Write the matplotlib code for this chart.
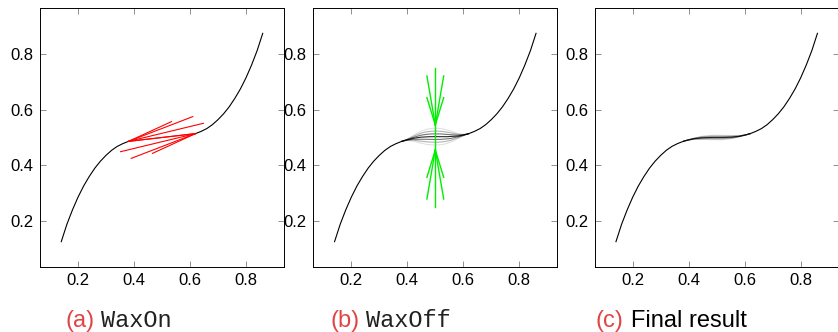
import matplotlib
matplotlib.use("Agg")
import matplotlib.pyplot as plt
from matplotlib.path import Path
from matplotlib.patches import PathPatch

plt.rcParams['font.family'] = ['Liberation Sans', 'DejaVu Sans']

# black curve (left part and right part of the hole)
left_x = [0.14, 0.16, 0.18, 0.20, 0.22, 0.24, 0.26, 0.28, 0.30, 0.32, 0.34, 0.36, 0.38]
left_y = [0.126, 0.188, 0.240, 0.286, 0.326, 0.360, 0.390, 0.415, 0.436, 0.454, 0.468, 0.478, 0.486]
right_x = [0.62, 0.64, 0.66, 0.68, 0.70, 0.72, 0.74, 0.76, 0.78, 0.80, 0.82, 0.84, 0.86]
right_y = [0.514, 0.522, 0.532, 0.546, 0.564, 0.585, 0.610, 0.640, 0.674, 0.714, 0.760, 0.812, 0.874]

# (a) WaxOn: red rays leaving each end of the hole
rays_from_left = [(0.534, 0.557), (0.610, 0.575), (0.648, 0.551), (0.620, 0.514)]
rays_from_right = [(0.466, 0.443), (0.390, 0.425), (0.352, 0.449), (0.380, 0.486)]

# (b) WaxOff: green rays, grey fill-in curves
green_x = 0.5
green_top_start, green_bottom_start = 0.545, 0.455
green_top_ends = [(0.47, 0.721), (0.53, 0.721), (0.47, 0.643), (0.53, 0.643)]
green_bottom_ends = [(0.47, 0.279), (0.53, 0.279), (0.47, 0.357), (0.53, 0.357)]
green_vertical = (0.250, 0.750)
levels_b = [0.473, 0.483, 0.493, 0.503, 0.513, 0.523, 0.533]
shade_b = [0.12, 0.3, 0.55, 0.85, 0.55, 0.3, 0.12]

# (c) Final result: tight band of curves
levels_c = [0.492, 0.494, 0.496, 0.498, 0.500, 0.502, 0.504, 0.506, 0.508]
shade_c = [0.12, 0.15, 0.2, 0.3, 0.8, 0.3, 0.2, 0.15, 0.12]

captions = [("(a)", "WaxOn", "mono"), ("(b)", "WaxOff", "mono"), ("(c)", "Final result", "sans")]

W, H = 838, 332
fig = plt.figure(figsize=(W / 100, H / 100), dpi=100)

ax_left = [40, 313.3, 594.7]
axes = []
for x0 in ax_left:
    ax = fig.add_axes([x0 / W, (H - 266.7) / H, 244 / W, 258.7 / H])
    axes.append(ax)


def fill_curve(ax, level, alpha):
    x0, y0 = left_x[-1], left_y[-1]
    x1, y1 = right_x[0], right_y[0]
    verts = [(x0, y0), (x0 + 0.04, y0 + 0.012), (0.44, level), (0.5, level),
             (0.56, level), (x1 - 0.04, y1 - 0.012), (x1, y1)]
    codes = [Path.MOVETO] + [Path.CURVE4] * 6
    ax.add_patch(PathPatch(Path(verts, codes), fill=False, edgecolor='black',
                           alpha=alpha, lw=0.8))


for i, ax in enumerate(axes):
    ax.plot(left_x, left_y, color='black', lw=0.8)
    ax.plot(right_x, right_y, color='black', lw=0.8)
    ax.set_xlim(0.064, 0.936)
    ax.set_ylim(0.036, 0.965)
    ax.set_xticks([0.2, 0.4, 0.6, 0.8])
    ax.set_yticks([0.2, 0.4, 0.6, 0.8])
    ax.tick_params(direction='in', top=True, right=True, length=4.3, width=0.5,
                   color='#666666', labelsize=12, pad=4.8)
    for s in ax.spines.values():
        s.set_linewidth(0.7)

# (a)
lx, ly = left_x[-1], left_y[-1]
rx, ry = right_x[0], right_y[0]
for ex, ey in rays_from_left:
    axes[0].plot([lx, ex], [ly, ey], color='red', lw=0.8)
for ex, ey in rays_from_right:
    axes[0].plot([rx, ex], [ry, ey], color='red', lw=0.8)

# (b)
for lev, sh in zip(levels_b, shade_b):
    fill_curve(axes[1], lev, sh)
axes[1].plot([green_x, green_x], green_vertical, color='#00ee00', lw=1.0)
for ex, ey in green_top_ends:
    axes[1].plot([green_x, ex], [green_top_start, ey], color='#00ee00', lw=1.0)
for ex, ey in green_bottom_ends:
    axes[1].plot([green_x, ex], [green_bottom_start, ey], color='#00ee00', lw=1.0)

# (c)
for lev, sh in zip(levels_c, shade_c):
    fill_curve(axes[2], lev, sh)

cap_x = [65, 330, 595.7]
for (tag, name, kind), x0 in zip(captions, cap_x):
    fig.text(x0 / W, 5 / H, tag, color='#e04444', fontsize=17, va='baseline')
    if kind == 'mono':
        fig.text((x0 + 35.5) / W, 5 / H, name, fontsize=17, va='baseline',
                 family=['Liberation Mono', 'DejaVu Sans Mono'], color='#222222')
    else:
        fig.text((x0 + 35.5) / W, 5 / H, name, fontsize=17, va='baseline')

fig.savefig("out.png", dpi=100)
